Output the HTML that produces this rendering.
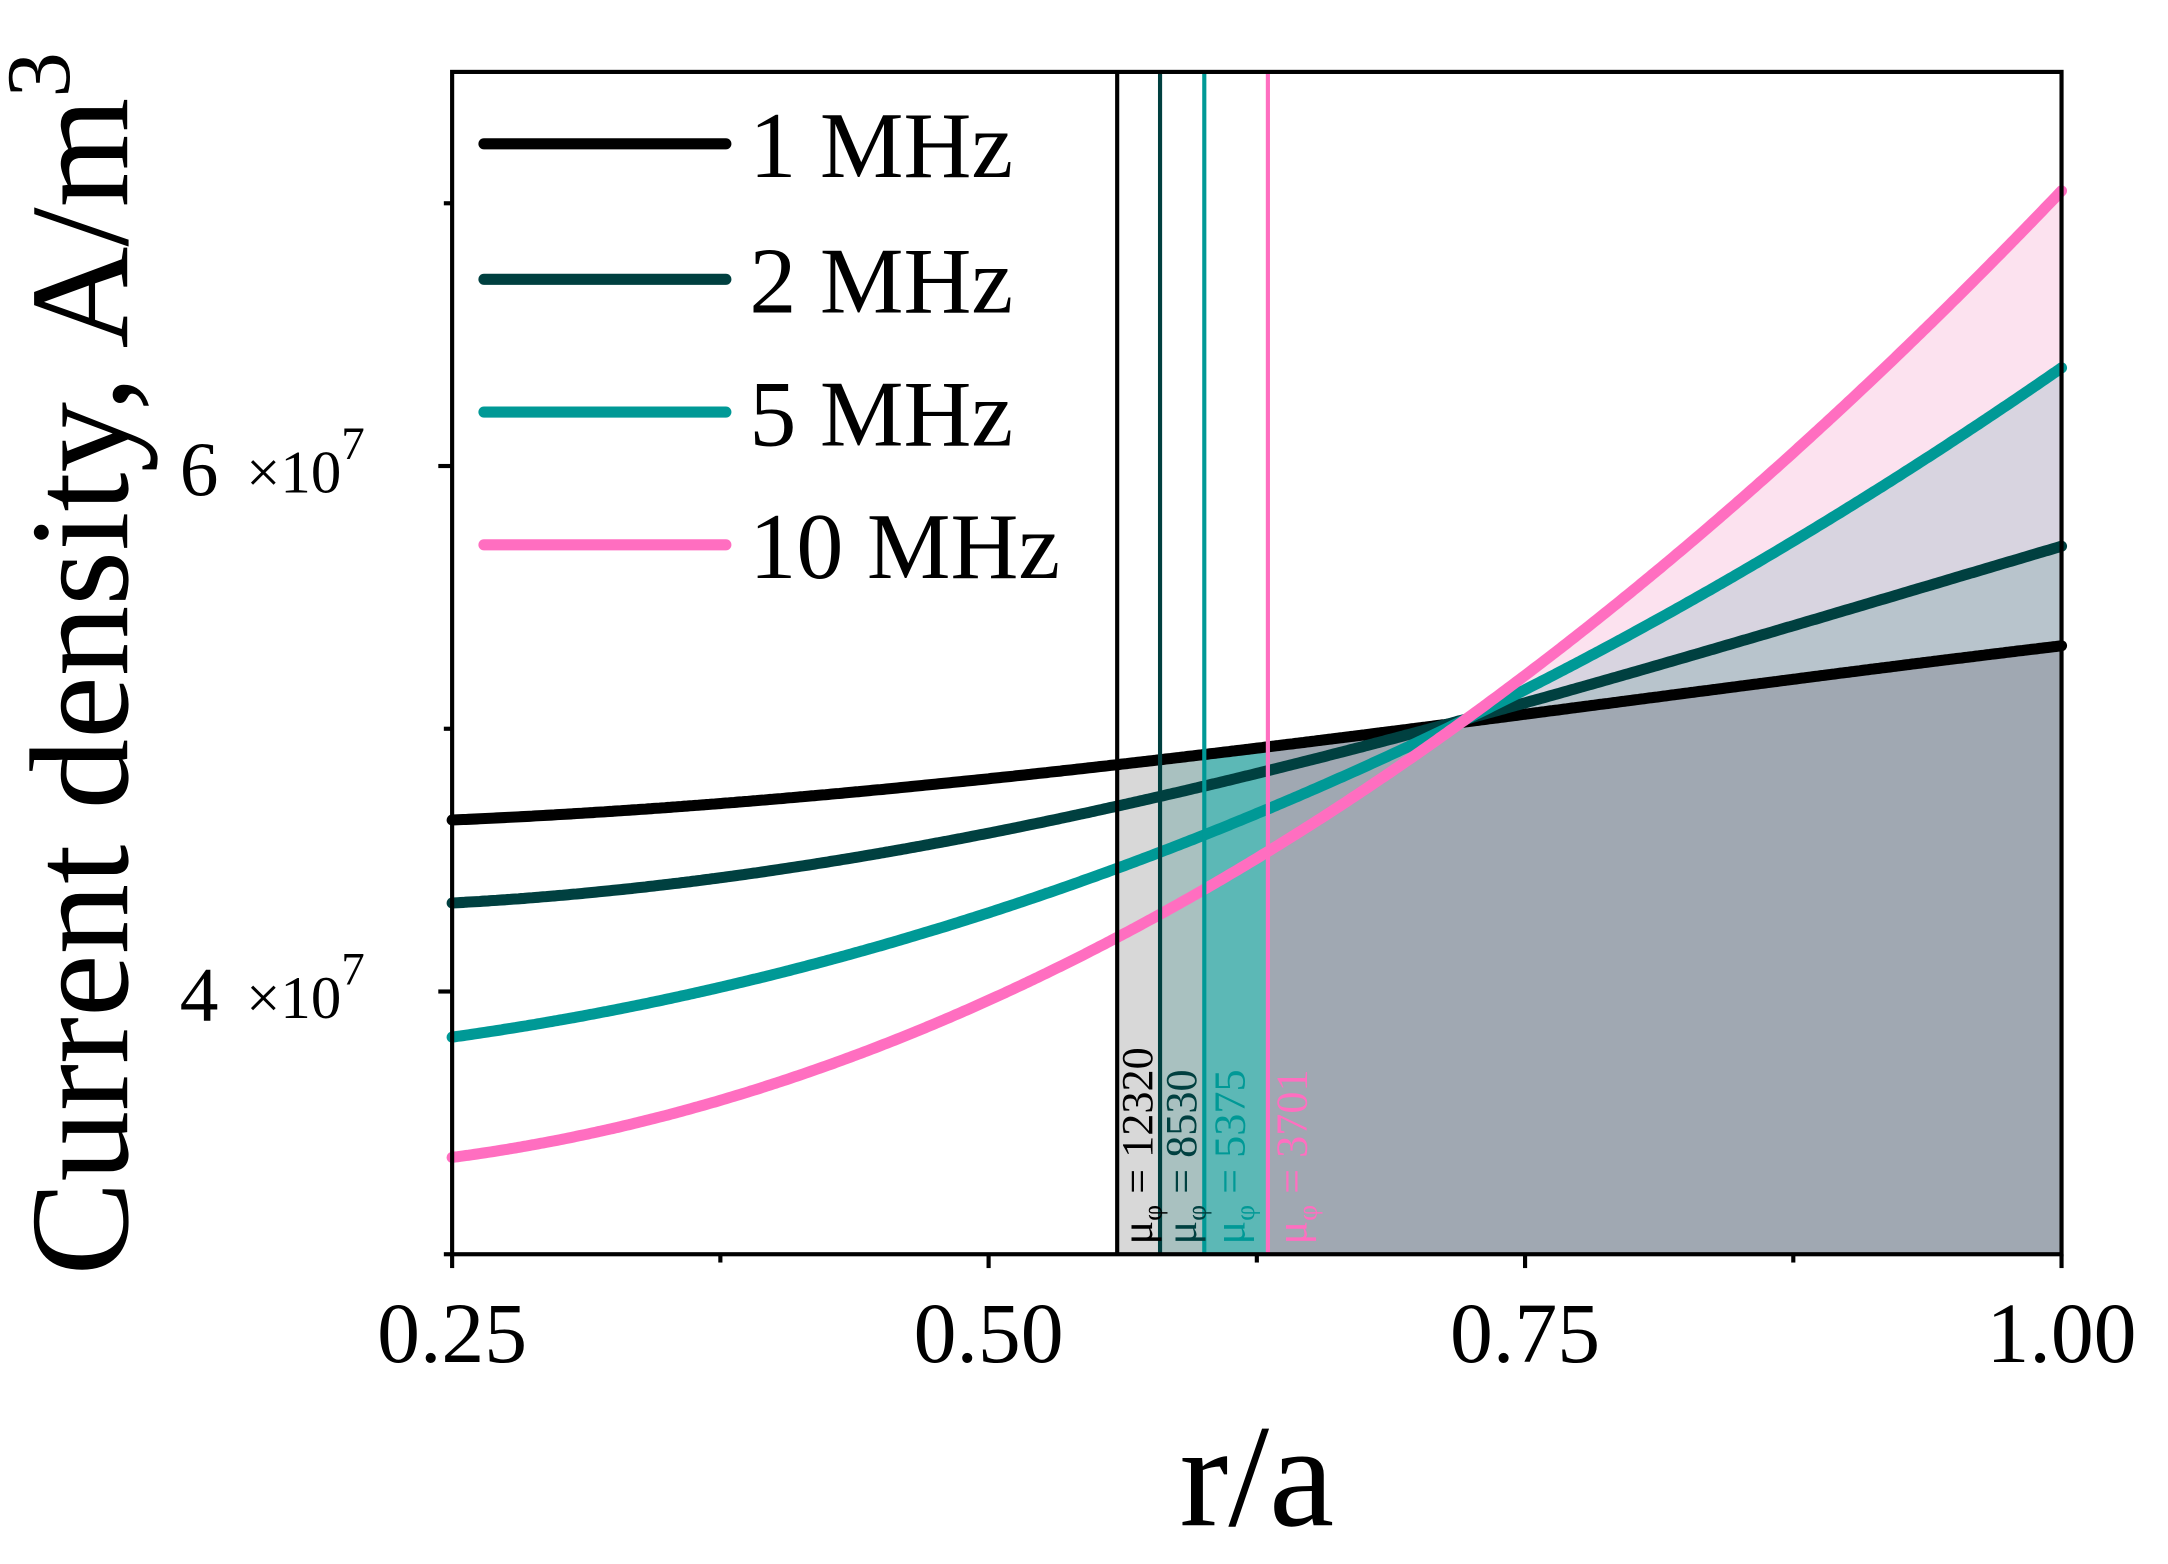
<!DOCTYPE html>
<html><head><meta charset="utf-8"><style>html,body{margin:0;padding:0;background:#fff}svg{display:block}</style></head>
<body>
<svg width="2168" height="1564" viewBox="0 0 1568 1131" preserveAspectRatio="none" xmlns="http://www.w3.org/2000/svg" font-family="'Liberation Serif',serif">
<defs>
<clipPath id="c1"><rect x="808" y="0" width="31" height="907"/></clipPath>
<clipPath id="c2"><rect x="839" y="0" width="32" height="907"/></clipPath>
<clipPath id="c3"><rect x="871" y="0" width="46" height="907"/></clipPath>
<clipPath id="c4"><rect x="917" y="0" width="574" height="907"/></clipPath>
</defs>
<g id="fills"></g>
<g id="curves" fill="none" stroke-width="8" stroke-linecap="round"></g>
<line x1="808" y1="52" x2="808" y2="907" stroke="#000" stroke-width="3"/>
<line x1="839" y1="52" x2="839" y2="907" stroke="#004040" stroke-width="3"/>
<line x1="871" y1="52" x2="871" y2="907" stroke="#009996" stroke-width="3"/>
<line x1="917" y1="52" x2="917" y2="907" stroke="#ff6ec0" stroke-width="3"/>
<g font-size="32">
<text transform="translate(833,900) rotate(-90)" fill="#000">μ<tspan font-size="20" dy="7">φ</tspan><tspan dy="-7"> = 12320</tspan></text>
<text transform="translate(865,900) rotate(-90)" fill="#004040">μ<tspan font-size="20" dy="7">φ</tspan><tspan dy="-7"> = 8530</tspan></text>
<text transform="translate(900,900) rotate(-90)" fill="#009996">μ<tspan font-size="20" dy="7">φ</tspan><tspan dy="-7"> = 5375</tspan></text>
<text transform="translate(945,900) rotate(-90)" fill="#ff6ec0">μ<tspan font-size="20" dy="7">φ</tspan><tspan dy="-7"> = 3701</tspan></text>
</g>
<rect x="327" y="52" width="1164" height="855" fill="none" stroke="#000" stroke-width="3"/>
<g stroke="#000" stroke-width="3">
<line x1="327" y1="907" x2="327" y2="917"/><line x1="715" y1="907" x2="715" y2="917"/><line x1="1103" y1="907" x2="1103" y2="917"/><line x1="1491" y1="907" x2="1491" y2="917"/>
<line x1="521" y1="907" x2="521" y2="913"/><line x1="909" y1="907" x2="909" y2="913"/><line x1="1297" y1="907" x2="1297" y2="913"/>
<line x1="317" y1="337" x2="327" y2="337"/><line x1="317" y1="717" x2="327" y2="717"/>
<line x1="321" y1="147" x2="327" y2="147"/><line x1="321" y1="527" x2="327" y2="527"/><line x1="321" y1="907" x2="327" y2="907"/>
</g>
<g font-size="62" text-anchor="middle">
<text x="327" y="985">0.25</text><text x="715" y="985">0.50</text><text x="1103" y="985">0.75</text><text x="1491" y="985">1.00</text>
</g>
<text x="130" y="358" font-size="56">6</text><text x="178" y="356" font-size="44">×10<tspan font-size="34" dy="-24">7</tspan></text>
<text x="130" y="738" font-size="56">4</text><text x="178" y="736" font-size="44">×10<tspan font-size="34" dy="-24">7</tspan></text>
<text x="909" y="1103" font-size="106" text-anchor="middle">r/a</text>
<text transform="translate(92,480) rotate(-90)" font-size="102" text-anchor="middle">Current density, A/m<tspan font-size="66" dy="-42">3</tspan></text>
<g stroke-width="8" stroke-linecap="round">
<line x1="350" y1="104" x2="525" y2="104" stroke="#000"/>
<line x1="350" y1="202" x2="525" y2="202" stroke="#004040"/>
<line x1="350" y1="298" x2="525" y2="298" stroke="#009996"/>
<line x1="350" y1="394" x2="525" y2="394" stroke="#ff6ec0"/>
</g>
<g font-size="68">
<text x="542" y="128">1 MHz</text><text x="542" y="226">2 MHz</text><text x="542" y="322">5 MHz</text><text x="542" y="418">10 MHz</text>
</g>
</svg>
<script>
var NS='http://www.w3.org/2000/svg';
var S={
 k:[[0,593],[0.413,553],[0.63,522],[1,467]],
 d:[[0,653],[0.413,583],[0.63,520],[1,395]],
 t:[[0,750],[0.413,628],[0.63,520],[1,266]],
 p:[[0,837],[0.413,678],[0.63,520],[1,138]]};
function f(pts,x){var t=(x-327)/1164,s=0;for(var i=0;i<pts.length;i++){var l=1;for(var j=0;j<pts.length;j++){if(j!==i)l*=(t-pts[j][0])/(pts[i][0]-pts[j][0]);}s+=l*pts[i][1];}return s;}
function path(k,x0){var s='';for(var x=x0;x<=1491;x+=2){s+=(s?'L':'M')+x+','+f(S[k],x).toFixed(1);}if((1491-x0)%2)s+='L1491,'+f(S[k],1491).toFixed(1);return s;}
function area(k,x0){return path(k,x0)+'L1491,907L'+x0+',907Z';}
function add(parent,d,attrs){var e=document.createElementNS(NS,'path');e.setAttribute('d',d);for(var a in attrs)e.setAttribute(a,attrs[a]);parent.appendChild(e);}
var F=document.getElementById('fills'),C=document.getElementById('curves');
add(F,area('k',808),{fill:'#d8d8d8','clip-path':'url(#c1)'});
add(F,area('k',808),{fill:'#a9c1c0','clip-path':'url(#c2)'});
add(F,area('k',808),{fill:'#5cb8b6','clip-path':'url(#c3)'});
add(F,area('p',917),{fill:'#fce2ef','clip-path':'url(#c4)'});
add(F,area('t',917),{fill:'#d8d4e0','clip-path':'url(#c4)'});
add(F,area('d',917),{fill:'#b8c4cc','clip-path':'url(#c4)'});
add(F,area('k',917),{fill:'#a0a8b2','clip-path':'url(#c4)'});
var col={k:'#000',d:'#004040',t:'#009996',p:'#ff6ec0'};
['k','d','t','p'].forEach(function(k){add(C,path(k,327),{stroke:col[k]});});
</script>
</body></html>
